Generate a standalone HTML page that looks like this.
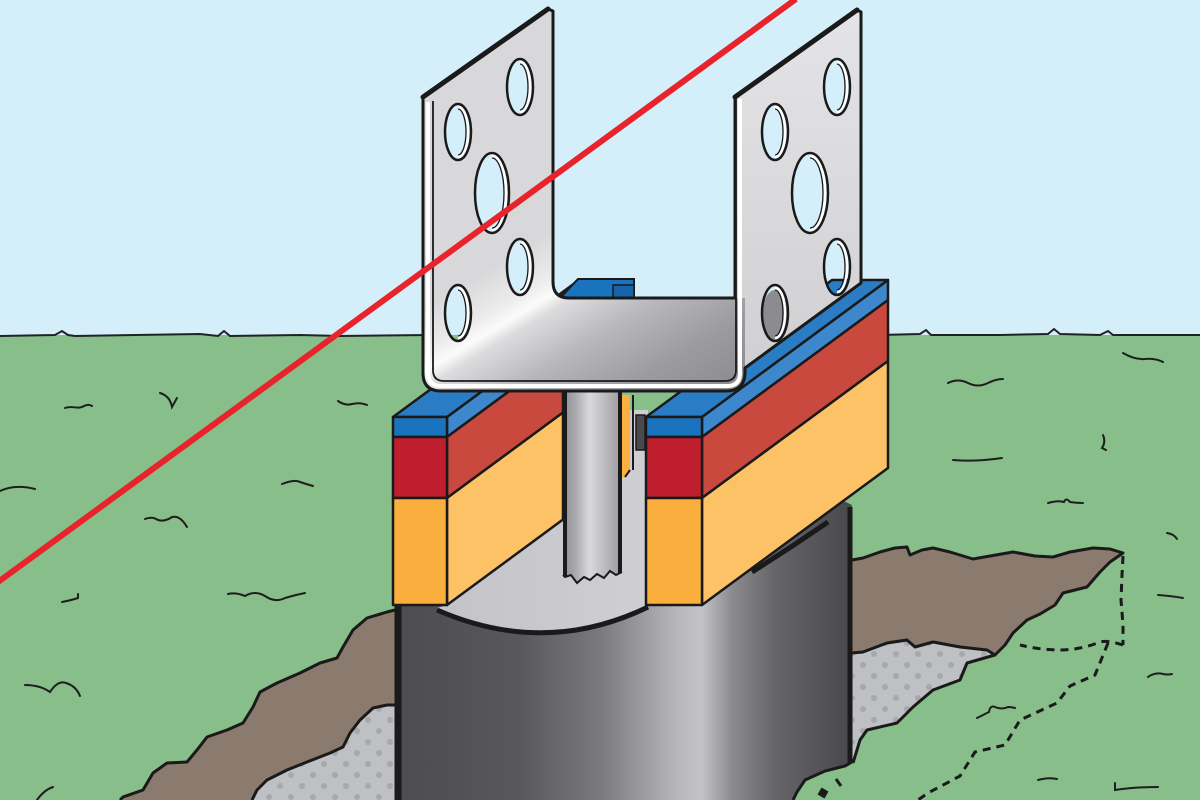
<!DOCTYPE html>
<html><head><meta charset="utf-8"><style>html,body{margin:0;padding:0;background:#d4eefa;}svg{display:block;}</style></head>
<body>
<svg width="1200" height="800" viewBox="0 0 1200 800" xmlns="http://www.w3.org/2000/svg">
<defs>
<pattern id="dots" width="22" height="22" patternUnits="userSpaceOnUse"><rect width="22" height="22" fill="#bfc0c4"/><circle cx="5" cy="5" r="3" fill="#a7a8ac"/><circle cx="16" cy="16" r="3" fill="#a7a8ac"/></pattern>
<linearGradient id="cyl" gradientUnits="userSpaceOnUse" x1="395" y1="0" x2="852" y2="0">
<stop offset="0" stop-color="#4c4c50"/><stop offset="0.27" stop-color="#58585c"/><stop offset="0.45" stop-color="#7a7a7e"/><stop offset="0.62" stop-color="#b8b8bc"/><stop offset="0.67" stop-color="#c4c4c8"/><stop offset="0.74" stop-color="#8a8a8e"/><stop offset="0.83" stop-color="#66666a"/><stop offset="1" stop-color="#48484c"/></linearGradient>
<linearGradient id="rod" gradientUnits="userSpaceOnUse" x1="563" y1="0" x2="622" y2="0">
<stop offset="0" stop-color="#8e8e92"/><stop offset="0.2" stop-color="#a8a8ac"/><stop offset="0.45" stop-color="#dadade"/><stop offset="0.7" stop-color="#bcbcc0"/><stop offset="1" stop-color="#9a9a9e"/></linearGradient>
<linearGradient id="brL" gradientUnits="userSpaceOnUse" x1="440" y1="298" x2="559" y2="494">
<stop offset="0" stop-color="#d8d8da"/><stop offset="0.17" stop-color="#ececec"/><stop offset="0.24" stop-color="#fbfbfb"/><stop offset="0.3" stop-color="#dcdcde"/><stop offset="0.5" stop-color="#b8b8bc"/><stop offset="0.75" stop-color="#9c9ca0"/><stop offset="1" stop-color="#8c8c90"/></linearGradient>
<linearGradient id="brR" gradientUnits="userSpaceOnUse" x1="0" y1="10" x2="0" y2="370">
<stop offset="0" stop-color="#e4e4e6"/><stop offset="1" stop-color="#d0d0d2"/></linearGradient>
<linearGradient id="inner" gradientUnits="userSpaceOnUse" x1="447" y1="0" x2="648" y2="0">
<stop offset="0" stop-color="#c4c4c8"/><stop offset="1" stop-color="#cfcfd3"/></linearGradient>
</defs>

<!-- sky & grass -->
<rect x="0" y="0" width="1200" height="336" fill="#d4eefa"/>
<rect x="0" y="335" width="1200" height="465" fill="#87be8a"/>
<path d="M0,336 L55,335 L62,331 L68,335 L75,336 L200,334 L218,336 L224,331 L230,336 L300,335 L340,336 L430,335 M880,335 L920,334 L926,330 L931,335 L1000,335 L1048,334 L1054,329 L1060,334 L1100,335 L1108,331 L1113,335 L1200,335" fill="none" stroke="#222" stroke-width="2"/>

<!-- grass marks -->
<g fill="none" stroke="#1e1e1e" stroke-width="2" stroke-linecap="round">
<path d="M65,408 C72,405 78,410 84,406 C88,404 90,405 92,406"/>
<path d="M160,393 Q170,396 172,407 L177,398"/>
<path d="M338,401 Q345,406 352,404 Q360,402 367,405"/>
<path d="M0,491 Q15,484 35,489"/>
<path d="M282,484 Q295,479 300,482 Q306,484 313,486"/>
<path d="M145,519 Q152,516 158,520 Q165,522 172,517 Q180,515 187,527"/>
<path d="M62,602 Q72,600 78,598 L78,594"/>
<path d="M228,594 Q236,592 245,596 Q255,590 265,596 Q275,603 285,598 Q295,595 305,593"/>
<path d="M25,685 Q40,685 50,692 Q58,680 66,683 Q76,686 80,696"/>
<path d="M37,800 Q44,790 53,787"/>
<path d="M1123,353 Q1135,360 1145,359 Q1155,358 1163,362"/>
<path d="M948,383 Q958,378 968,383 Q978,388 988,383 Q996,379 1003,379"/>
<path d="M1103,435 Q1106,442 1102,448 L1106,450"/>
<path d="M953,460 Q975,462 1002,458"/>
<path d="M1048,503 Q1058,500 1064,502 Q1066,497 1070,502 Q1076,503 1083,503"/>
<path d="M1167,533 Q1174,534 1177,539"/>
<path d="M1158,595 Q1172,596 1183,598"/>
<path d="M1148,677 Q1155,672 1163,674 Q1168,675 1172,674"/>
<path d="M977,718 Q985,714 989,712 Q990,705 995,707 Q1002,710 1008,707 Q1012,707 1015,708"/>
<path d="M1038,780 Q1048,777 1057,779"/>
<path d="M1115,783 L1115,790 Q1135,787 1158,787"/>
</g>

<!-- left hole -->
<path d="M400,610 L387,612 L367,618 L353,630 L343,647 L337,658 L320,663 L300,673 L277,683 L260,692 L253,707 L243,723 L227,730 L207,737 L197,750 L187,762 L167,763 L153,773 L143,790 L123,797 L120,800 L252,800 L257,790 L267,780 L287,770 L307,762 L330,753 L343,747 L350,733 L360,720 L373,708 L387,705 L400,705 Z" fill="#8b7a6e"/>
<path d="M400,705 L387,705 L373,708 L360,720 L350,733 L343,747 L330,753 L307,762 L287,770 L267,780 L257,790 L252,800 L400,800 Z" fill="url(#dots)"/>
<g fill="none" stroke="#1a1a1a" stroke-width="3" stroke-linejoin="round">
<path d="M395,610 L387,612 L367,618 L353,630 L343,647 L337,658 L320,663 L300,673 L277,683 L260,692 L253,707 L243,723 L227,730 L207,737 L197,750 L187,762 L167,763 L153,773 L143,790 L123,797 L120,800"/>
<path d="M395,705 L387,705 L373,708 L360,720 L350,733 L343,747 L330,753 L307,762 L287,770 L267,780 L257,790 L252,800"/>
</g>

<!-- right hole -->
<path d="M845,560 L863,558 L880,552 L895,548 L907,547 L910,555 L922,550 L933,548 L950,552 L973,559 L990,556 L1013,552 L1035,556 L1053,557 L1070,552 L1093,548 L1110,549 L1123,553 L1110,562 L1100,572 L1087,587 L1075,590 L1063,593 L1055,605 L1040,614 L1027,620 L1013,633 L1005,645 L995,655 L987,650 L960,647 L933,642 L915,647 L907,640 L887,643 L863,652 L845,653 Z" fill="#8b7a6e"/>
<path d="M845,653 L863,652 L887,643 L907,640 L915,647 L933,642 L960,647 L987,650 L995,655 L967,663 L960,680 L933,690 L913,707 L897,723 L867,730 L860,740 L853,763 L845,763 Z" fill="url(#dots)"/>
<g fill="none" stroke="#1a1a1a" stroke-width="3" stroke-linejoin="round">
<path d="M852,560 L863,558 L880,552 L895,548 L907,547 L910,555 L922,550 L933,548 L950,552 L973,559 L990,556 L1013,552 L1035,556 L1053,557 L1070,552 L1093,548 L1110,549 L1123,553 L1110,562 L1100,572 L1087,587 L1075,590 L1063,593 L1055,605 L1040,614 L1027,620 L1013,633 L1005,645 L995,655 L967,663 L960,680 L933,690 L913,707 L897,723 L867,730 L860,740 L853,763"/>
<path d="M852,653 L863,652 L887,643 L907,640 L915,647 L933,642 L960,647 L987,650 L995,655"/>
</g>
<g fill="none" stroke="#1a1a1a" stroke-width="3" stroke-dasharray="8 6">
<path d="M1123,556 L1122,575 L1121,600 L1123,625 L1123,645"/>
<path d="M1123,645 Q1108,640 1100,642 Q1080,650 1060,650 Q1040,650 1020,645"/>
<path d="M1108,643 L1095,675 L1070,686 L1057,703 L1020,720 L1005,745 L975,752 L960,776 L928,793 L918,800"/>
</g>

<!-- cylinder -->
<path d="M395,480 L800,480 L852,505 L852,762 L845,766 L825,771 L805,780 L797,792 L793,800 L395,800 Z" fill="url(#cyl)"/>
<path d="M850,507 L850,763" stroke="#1a1a1a" stroke-width="5"/>
<path d="M398,606 L398,800" stroke="#1a1a1a" stroke-width="7"/>
<path d="M852,762 L845,766 L825,771 L805,780 L797,792 L793,800" fill="none" stroke="#1a1a1a" stroke-width="3"/>
<path d="M836,779 L841,786" stroke="#1a1a1a" stroke-width="3"/>
<rect x="819" y="789" width="8" height="8" fill="#1a1a1a" transform="rotate(30 823 793)"/>

<!-- cylinder interior top -->
<path d="M447,605 L563,520 L563,410 L648,410 L648,606 Q545,655 437,608 Z" fill="url(#inner)"/>
<path d="M437,610 Q545,657 648,607" fill="none" stroke="#1a1a1a" stroke-width="5"/>
<path d="M752,572 Q790,548 828,522" fill="none" stroke="#1a1a1a" stroke-width="5"/>

<!-- left board -->
<g stroke="#1a1a1a" stroke-width="2.5" stroke-linejoin="round">
<path d="M447,417 L563,331.5 L563,351.5 L447,437 Z" fill="#3d88cc"/>
<path d="M447,437 L563,351.5 L563,412.5 L447,498 Z" fill="#c9493f"/>
<path d="M447,498 L563,412.5 L563,519.5 L447,605 Z" fill="#fdc166"/>
<path d="M393,417 L447,417 L633,280 L579,280 Z" fill="#2a7dc5"/>
<rect x="393" y="417" width="54" height="20" fill="#1a74bd"/>
<rect x="393" y="437" width="54" height="61" fill="#bf1e2e"/>
<rect x="393" y="498" width="54" height="107" fill="#f9ae3d"/>
</g>
<!-- right board -->
<g stroke="#1a1a1a" stroke-width="2.5" stroke-linejoin="round">
<path d="M702,417 L888,280 L888,300 L702,437 Z" fill="#3d88cc"/>
<path d="M702,437 L888,300 L888,361 L702,498 Z" fill="#c9493f"/>
<path d="M702,498 L888,361 L888,468 L702,605 Z" fill="#fdc166"/>
<path d="M646,417 L702,417 L888,280 L832,280 Z" fill="#2a7dc5"/>
<rect x="646" y="417" width="56" height="20" fill="#1a74bd"/>
<rect x="646" y="437" width="56" height="61" fill="#bf1e2e"/>
<rect x="646" y="498" width="56" height="107" fill="#f9ae3d"/>
</g>

<!-- rod & fittings -->
<path d="M622,395 L630,395 L630,470 L625,477 L622,477 Z" fill="#fbb040"/>
<path d="M630,470 L625,477" stroke="#1a1a1a" stroke-width="2"/>
<path d="M633,395 L633,470" stroke="#1a1a1a" stroke-width="2"/>
<rect x="636" y="415" width="9" height="35" fill="#4a4a4e" stroke="#1a1a1a" stroke-width="1.5"/>
<path d="M563,390 L622,390 L622,572 L616,575 L610,571 L604,578 L597,574 L590,580 L584,577 L577,583 L571,575 L565,577 L563,575 Z" fill="url(#rod)"/>
<path d="M565,390 L565,576 M620,390 L620,573" stroke="#1a1a1a" stroke-width="4"/>
<path d="M563,575 L565,577 L571,575 L577,583 L584,577 L590,580 L597,574 L604,578 L610,571 L616,575 L622,572" fill="none" stroke="#1a1a1a" stroke-width="2"/>

<!-- back blue block seen through bracket -->
<path d="M560,298 L578,279 L634,279 L634,298 Z" fill="#1a74bd" stroke="#1a1a1a" stroke-width="2"/>
<rect x="613" y="285" width="21" height="13" fill="#1563a8" stroke="#1a1a1a" stroke-width="1.5"/>
<!-- gray behind lower right hole -->
<ellipse cx="775" cy="316" rx="13" ry="26" fill="#8c8c90"/>

<!-- bracket -->
<path fill-rule="evenodd" fill="url(#brL)" d="M423,97 L548,9 L553,11 L553,282 Q553,298 569,298 L745,298 L745,372 Q745,391 726,391 L441,391 Q423,391 423,373 Z
M507,87 a13,28 0 1 0 26,0 a13,28 0 1 0 -26,0 Z
M445,132 a13,28 0 1 0 26,0 a13,28 0 1 0 -26,0 Z
M475,193 a17,40 0 1 0 34,0 a17,40 0 1 0 -34,0 Z
M507,267 a13,28 0 1 0 26,0 a13,28 0 1 0 -26,0 Z
M445,313 a13,28 0 1 0 26,0 a13,28 0 1 0 -26,0 Z"/>
<path fill-rule="evenodd" fill="url(#brR)" d="M735,97 L857,10 L861,12 L861,283 L745,368 L745,298 L735,298 Z
M824,87 a13,28 0 1 0 26,0 a13,28 0 1 0 -26,0 Z
M762,132 a13,28 0 1 0 26,0 a13,28 0 1 0 -26,0 Z
M792,193 a18,40 0 1 0 36,0 a18,40 0 1 0 -36,0 Z
M824,267 a13,28 0 1 0 26,0 a13,28 0 1 0 -26,0 Z
M762,313 a13,28 0 1 0 26,0 a13,28 0 1 0 -26,0 Z"/>
<!-- rims -->
<path d="M428,102 L428,373 Q428,386 441,386 L727,386 Q740,386 740,373 L740,99" fill="none" stroke="#ffffff" stroke-width="4"/>
<path d="M433,101 L433,370 Q433,381 444,381 L725,381 Q736,381 736,370 L736,97" fill="none" stroke="#1a1a1a" stroke-width="1.8"/>
<path d="M423,97 L548,9 L553,11 L553,282 Q553,298 569,298 L735,298 L735,97 L857,10 L861,12 L861,283 L745,368 L745,372 Q745,391 726,391 L441,391 Q423,391 423,373 Z" fill="none" stroke="#1a1a1a" stroke-width="3" stroke-linejoin="round"/>
<path d="M423,97 L548,9 M735,97 L857,10" stroke="#1a1a1a" stroke-width="5" stroke-linecap="round"/>
<!-- hole outlines -->
<g fill="none" stroke="#1a1a1a" stroke-width="2.5">
<ellipse cx="520" cy="87" rx="13" ry="28"/><ellipse cx="458" cy="132" rx="13" ry="28"/><ellipse cx="492" cy="193" rx="17" ry="40"/><ellipse cx="520" cy="267" rx="13" ry="28"/><ellipse cx="458" cy="313" rx="13" ry="28"/>
<ellipse cx="837" cy="87" rx="13" ry="28"/><ellipse cx="775" cy="132" rx="13" ry="28"/><ellipse cx="810" cy="193" rx="18" ry="40"/><ellipse cx="837" cy="267" rx="13" ry="28"/><ellipse cx="775" cy="313" rx="13" ry="28"/>
</g>
<g fill="none" stroke="#ffffff" stroke-width="2.5">
<path d="M520,62 A10,25 0 0 1 520,112"/><path d="M458,107 A10,25 0 0 1 458,157"/><path d="M492,156 A14,37 0 0 1 492,230"/><path d="M520,242 A10,25 0 0 1 520,292"/><path d="M458,288 A10,25 0 0 1 458,338"/>
<path d="M837,62 A10,25 0 0 1 837,112"/><path d="M775,107 A10,25 0 0 1 775,157"/><path d="M810,156 A15,37 0 0 1 810,230"/><path d="M837,242 A10,25 0 0 1 837,292"/><path d="M775,288 A10,25 0 0 1 775,338"/>
</g>
<g fill="none" stroke="#1a1a1a" stroke-width="1.3">
<path d="M520,64 A8,23 0 0 1 520,110"/><path d="M458,109 A8,23 0 0 1 458,155"/><path d="M492,158 A12,35 0 0 1 492,228"/><path d="M520,244 A8,23 0 0 1 520,290"/><path d="M458,290 A8,23 0 0 1 458,336"/>
<path d="M837,64 A8,23 0 0 1 837,110"/><path d="M775,109 A8,23 0 0 1 775,155"/><path d="M810,158 A13,35 0 0 1 810,228"/><path d="M837,244 A8,23 0 0 1 837,290"/><path d="M775,290 A8,23 0 0 1 775,336"/>
</g>

<!-- red line -->
<line x1="-2" y1="582" x2="796" y2="-1" stroke="#e8232b" stroke-width="6"/>
</svg>
</body></html>
